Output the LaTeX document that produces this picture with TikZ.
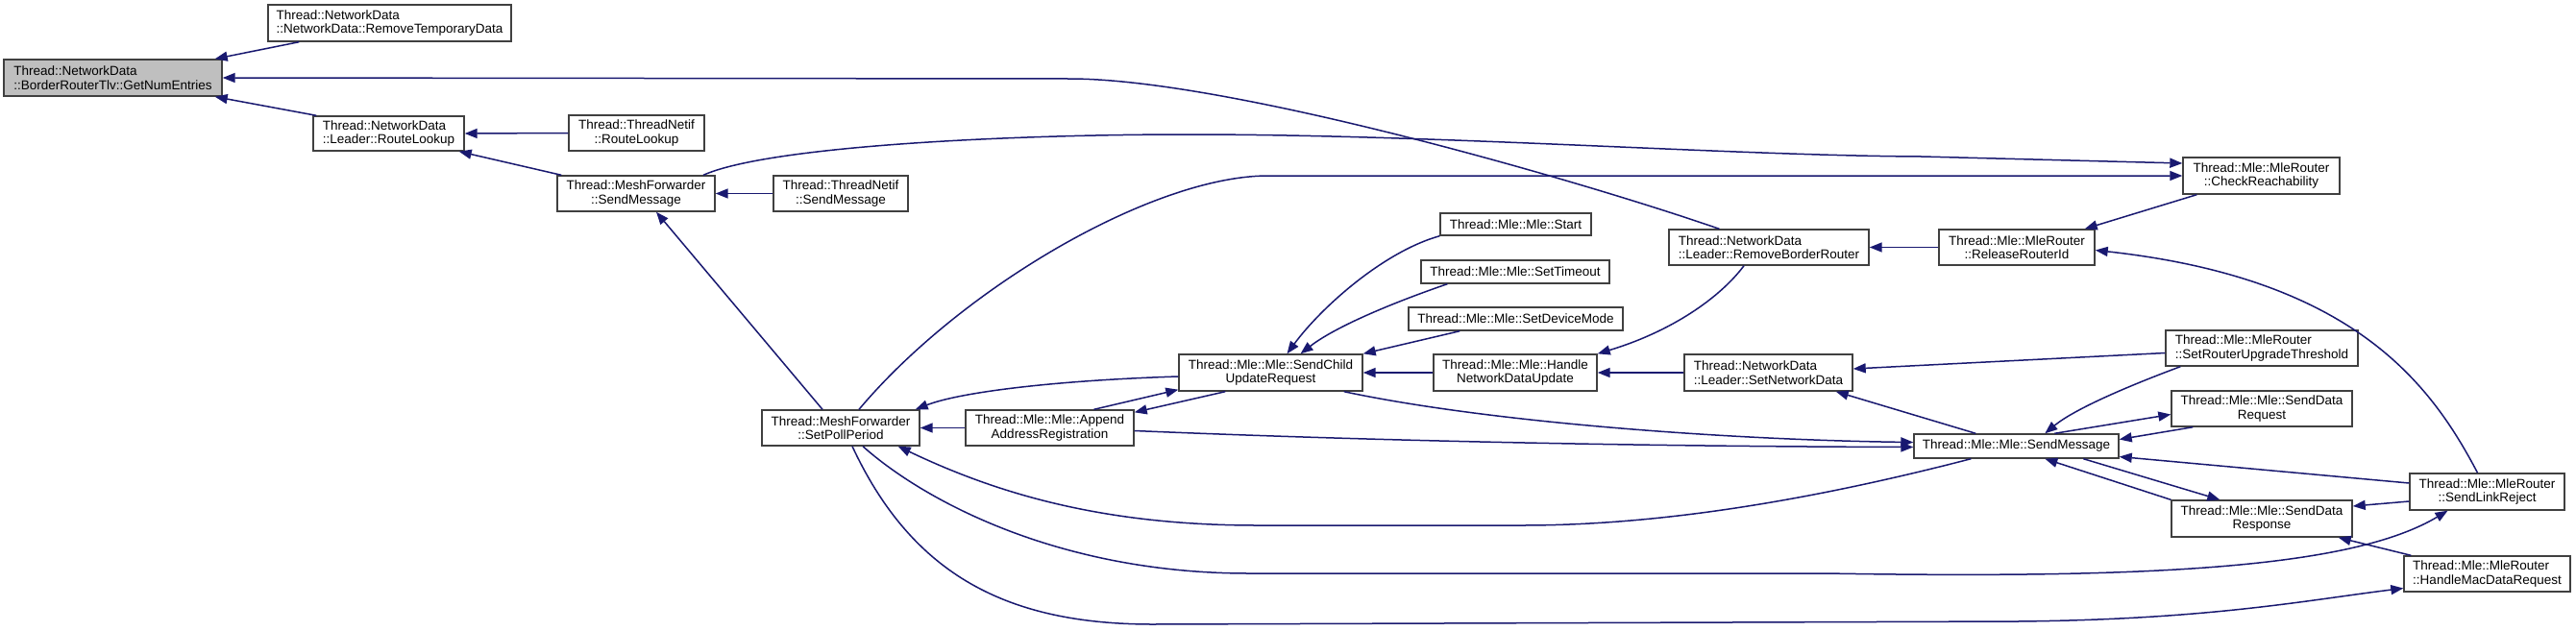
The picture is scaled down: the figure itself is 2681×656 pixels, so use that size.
\documentclass[tikz,border=0pt]{standalone}
\usepackage{fontspec}
\setmainfont{Liberation Sans}
\usetikzlibrary{arrows.meta, positioning, calc}
\definecolor{edgeblue}{HTML}{191970}
\definecolor{boxline}{HTML}{404040}
\definecolor{rootgray}{HTML}{BFBFBF}

\begin{document}
\begin{tikzpicture}[x=1pt, y=-1pt, >={Triangle[length=13pt, width=10pt]},
  fn/.style={draw=boxline, line width=1.4pt, fill=white, inner sep=2pt,
    font=\fontsize{13.5}{14.5}\selectfont},
  call/.style={draw=edgeblue, line width=1.5pt, ->}]

% Background
% Coordinate mapping: one unit = one pixel of the reference, y grows downwards
\useasboundingbox (0,0) rectangle (2681,656);
\fill[white] (0,0) rectangle (2681,656);

% Functions, column by column from the left
\node[fn, fill=rootgray, minimum width=227pt, minimum height=38pt, align=left] (gne) at (117.5,81)
  {Thread::NetworkData\\::BorderRouterTlv::GetNumEntries};

\node[fn, minimum width=253pt, minimum height=38pt, align=left] (rtd) at (405.5,24)
  {Thread::NetworkData\\::NetworkData::RemoveTemporaryData};
\node[fn, minimum width=157pt, minimum height=36pt, align=left] (ldrRoute) at (404.5,139)
  {Thread::NetworkData\\::Leader::RouteLookup};

\node[fn, minimum width=141pt, minimum height=37pt, align=center] (netifRoute) at (662.5,138.5)
  {Thread::ThreadNetif\\::RouteLookup};
\node[fn, minimum width=164pt, minimum height=37pt, align=center] (meshSend) at (662,201.5)
  {Thread::MeshForwarder\\::SendMessage};

\node[fn, minimum width=140pt, minimum height=37pt, align=center] (netifSend) at (875,201.5)
  {Thread::ThreadNetif\\::SendMessage};
\node[fn, minimum width=164pt, minimum height=37pt, align=center] (pollPeriod) at (875,445.5)
  {Thread::MeshForwarder\\::SetPollPeriod};

\node[fn, minimum width=175pt, minimum height=37pt, align=center] (appendAddr) at (1092.5,445.5)
  {Thread::Mle::Mle::Append\\AddressRegistration};

\node[fn, minimum width=191pt, minimum height=38pt, align=center] (childUpd) at (1322.5,388)
  {Thread::Mle::Mle::SendChild\\UpdateRequest};

\node[fn, minimum width=157pt, minimum height=23pt] (mleStart) at (1577.5,233.5)
  {Thread::Mle::Mle::Start};
\node[fn, minimum width=196pt, minimum height=24pt] (setTimeout) at (1577,283)
  {Thread::Mle::Mle::SetTimeout};
\node[fn, minimum width=223pt, minimum height=24pt] (setDevMode) at (1577.5,332)
  {Thread::Mle::Mle::SetDeviceMode};
\node[fn, minimum width=170pt, minimum height=38pt, align=center] (handleNwd) at (1577,388)
  {Thread::Mle::Mle::Handle\\NetworkDataUpdate};

\node[fn, minimum width=208pt, minimum height=37pt, align=left] (rmBorder) at (1841,257.5)
  {Thread::NetworkData\\::Leader::RemoveBorderRouter};
\node[fn, minimum width=175pt, minimum height=38pt, align=left] (setNwData) at (1840.5,388)
  {Thread::NetworkData\\::Leader::SetNetworkData};

\node[fn, minimum width=162pt, minimum height=37pt, align=center] (relRouter) at (2099,257.5)
  {Thread::Mle::MleRouter\\::ReleaseRouterId};
\node[fn, minimum width=213pt, minimum height=25pt] (mleSend) at (2098.5,464.5)
  {Thread::Mle::Mle::SendMessage};

\node[fn, minimum width=163pt, minimum height=38pt, align=center] (checkReach) at (2353.5,183)
  {Thread::Mle::MleRouter\\::CheckReachability};
\node[fn, minimum width=200pt, minimum height=37pt, align=left] (upgThresh) at (2354,362.5)
  {Thread::Mle::MleRouter\\::SetRouterUpgradeThreshold};
\node[fn, minimum width=188pt, minimum height=37pt, align=center] (dataReq) at (2354,425.5)
  {Thread::Mle::Mle::SendData\\Request};
\node[fn, minimum width=188pt, minimum height=38pt, align=center] (dataResp) at (2354,540)
  {Thread::Mle::Mle::SendData\\Response};

\node[fn, minimum width=161pt, minimum height=38pt, align=center] (linkReject) at (2588.5,512)
  {Thread::Mle::MleRouter\\::SendLinkReject};
\node[fn, minimum width=173pt, minimum height=37pt, align=left] (macDataReq) at (2588.5,597.5)
  {Thread::Mle::MleRouter\\::HandleMacDataRequest};

% Straight calls between boxes of one row
\foreach \src/\dst in {netifRoute/ldrRoute, netifSend/meshSend, appendAddr/pollPeriod,
    handleNwd/childUpd, setNwData/handleNwd, relRouter/rmBorder}
  \draw[call] (\src.west) -- (\dst.east);

% Into GetNumEntries
\draw[call] ([xshift=33pt]rtd.south west) -- ([xshift=-8pt]gne.north east);
\draw[call] ([xshift=4pt]ldrRoute.north west) -- ([xshift=-8pt]gne.south east);
\draw[call] ([xshift=53pt]rmBorder.north west) .. controls (1650,190) and (1280,82) .. (1113,82) -- (gne.east);

% MeshForwarder
\draw[call] ([xshift=5pt]meshSend.north west) -- ([xshift=-6pt]ldrRoute.south east);
\draw[call] ([xshift=-19pt]pollPeriod.north) -- ([xshift=21pt]meshSend.south);
\draw[call] ([xshift=70pt]meshSend.north) .. controls (800,152) and (1050,140) .. (1236,140)
  .. controls (1500,140) and (1800,162) .. (2000,163) -- ([yshift=13pt]checkReach.west);
\draw[call] ([xshift=19pt]pollPeriod.north) .. controls (1000,300) and (1200,183) .. (1320,183) -- (checkReach.west);

% MleRouter, upper part
\draw[call] ([xshift=15pt]checkReach.south west) -- ([xshift=-11pt]relRouter.north east);
\draw[call] ([xshift=-10pt]linkReject.north) .. controls (2530,400) and (2450,290) .. ([yshift=-3pt]relRouter.east);
\draw[call] ([xshift=-26pt]rmBorder.south) .. controls (1790,310) and (1740,345) .. (handleNwd.north east);

% SendChildUpdateRequest
\draw[call] (mleStart.south west) .. controls (1440,262) and (1375,320) .. ([xshift=17pt]childUpd.north);
\draw[call] ([xshift=28pt]setTimeout.south west) .. controls (1450,315) and (1390,340) .. ([xshift=31pt]childUpd.north);
\draw[call] ([xshift=54pt]setDevMode.south west) -- (childUpd.north east);
\draw[call] ([yshift=-4pt]childUpd.west) .. controls (1100,396) and (1000,408) .. ([xshift=-5pt]pollPeriod.north east);
\draw[call] ([xshift=46pt]appendAddr.north) -- ([yshift=2pt]childUpd.south west);
\draw[call] ([xshift=49pt]childUpd.south west) -- ([yshift=-3pt]appendAddr.north east);
\draw[call] ([xshift=-20pt]childUpd.south east) .. controls (1550,440) and (1800,458) .. ([yshift=4pt]mleSend.west);
\draw[call] ([yshift=-3pt]appendAddr.east) .. controls (1500,462) and (1800,465) .. ([yshift=-1pt]mleSend.west);

% Mle::SendMessage
\draw[call] ([xshift=65pt]mleSend.north west) -- ([xshift=-18pt]setNwData.south east);
\draw[call] ([yshift=-5pt]upgThresh.west) -- ([yshift=4pt]setNwData.east);
\draw[call] ([xshift=16pt]upgThresh.south west) .. controls (2220,400) and (2160,425) .. ([xshift=137pt]mleSend.north west);
\draw[call] ([xshift=147pt]mleSend.north west) -- ([yshift=-6pt]dataReq.west);
\draw[call] ([xshift=23pt]dataReq.south west) -- ([yshift=7pt]mleSend.east);
\draw[call] ([yshift=9pt]linkReject.west) -- ([yshift=-11pt]mleSend.east);
\draw[call] ([xshift=177pt]mleSend.south west) -- ([xshift=51pt]dataResp.north west);
\draw[call] (dataResp.north west) -- ([xshift=137pt]mleSend.south west);
\draw[call] ([xshift=60pt]mleSend.south west) .. controls (1850,530) and (1700,547) .. (1584,547)
  -- (1309,547) .. controls (1150,547) and (1040,515) .. ([xshift=-23pt]pollPeriod.south east);

% SendDataResponse and the long calls along the bottom
\draw[call] ([yshift=-10pt]linkReject.west) -- ([yshift=13pt]dataResp.east);
\draw[call] ([xshift=8pt]macDataReq.north west) -- ([xshift=-15pt]dataResp.south east);
\draw[call] ([xshift=23pt]pollPeriod.south) .. controls (960,520) and (1100,597) .. (1300,597)
  -- (1900,597) .. controls (2250,603) and (2450,590) .. ([xshift=-41pt]linkReject.south);
\draw[call] ([xshift=12pt]pollPeriod.south) .. controls (950,600) and (1050,650) .. (1200,650)
  -- (2100,647) .. controls (2300,645) and (2400,625) .. ([yshift=-15pt]macDataReq.west);

\end{tikzpicture}
\end{document}
